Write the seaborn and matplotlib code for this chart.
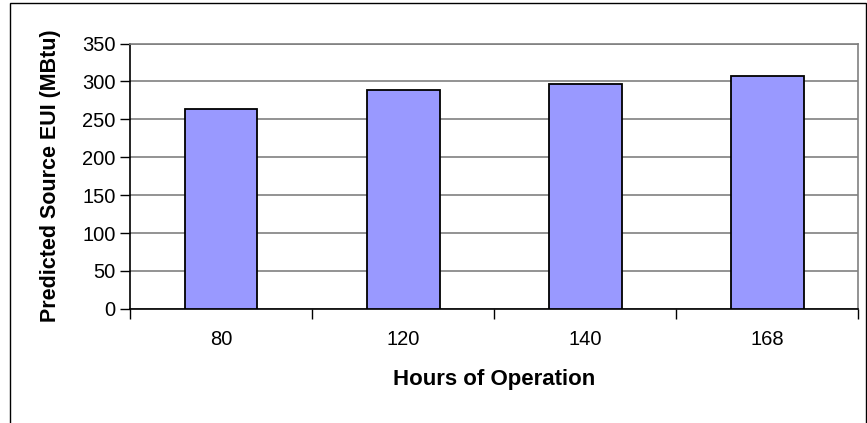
import numpy as np
import pandas as pd
import matplotlib
matplotlib.use("Agg")
import matplotlib.pyplot as plt
import seaborn as sns
from matplotlib.patches import Rectangle

# Data
hours = ["80", "120", "140", "168"]
source_eui = [264, 289, 297, 307]

df = pd.DataFrame({"Hours": hours, "EUI": source_eui})

sns.set_theme(style="white")
plt.rcParams['font.family'] = ['Liberation Sans', 'DejaVu Sans']
plt.rcParams['text.color'] = 'black'
plt.rcParams['axes.labelcolor'] = 'black'
plt.rcParams['xtick.color'] = 'black'
plt.rcParams['ytick.color'] = 'black'

fig = plt.figure(figsize=(8.67, 4.23), dpi=100)
ax = fig.add_axes([0.150, 0.270, 0.840, 0.627])

sns.barplot(data=df, x="Hours", y="EUI", color="#9999FF", saturation=1,
            edgecolor="black", linewidth=1.3, width=0.4, ax=ax, zorder=3)

ax.set_ylim(0, 350)
ax.set_xlim(-0.5, len(hours) - 0.5)
ax.set_yticks(np.arange(0, 351, 50))
ax.yaxis.grid(True, color="#808080", linewidth=1.2, zorder=0)
ax.set_axisbelow(True)

# Excel-style ticks between categories
ax.set_xticks(np.arange(-0.5, len(hours), 1.0), minor=True)
ax.tick_params(axis="x", which="major", bottom=True, length=0, pad=15, labelsize=14.5)
ax.tick_params(axis="x", which="minor", bottom=True, length=7, width=1, color="black", direction="out")
ax.tick_params(axis="y", left=True, length=7.5, width=1, color="black", direction="out", pad=3, labelsize=14.5)

for side in ["left", "bottom"]:
    ax.spines[side].set_color("black")
    ax.spines[side].set_linewidth(1.2)
for side in ["top", "right"]:
    ax.spines[side].set_color("#808080")
    ax.spines[side].set_linewidth(1.2)

ax.set_xlabel("Hours of Operation", fontsize=16, fontweight="bold", labelpad=15)
ax.set_ylabel("Predicted Source EUI (MBtu)", fontsize=15.5, fontweight="bold", labelpad=15)

# Outer chart border
fig.patches.append(Rectangle((10 / 867, -0.05), (866 - 10) / 867, 1.05 - 3 / 423,
                             transform=fig.transFigure, fill=False,
                             edgecolor="black", linewidth=1.0))

fig.savefig("out.png", dpi=100)
